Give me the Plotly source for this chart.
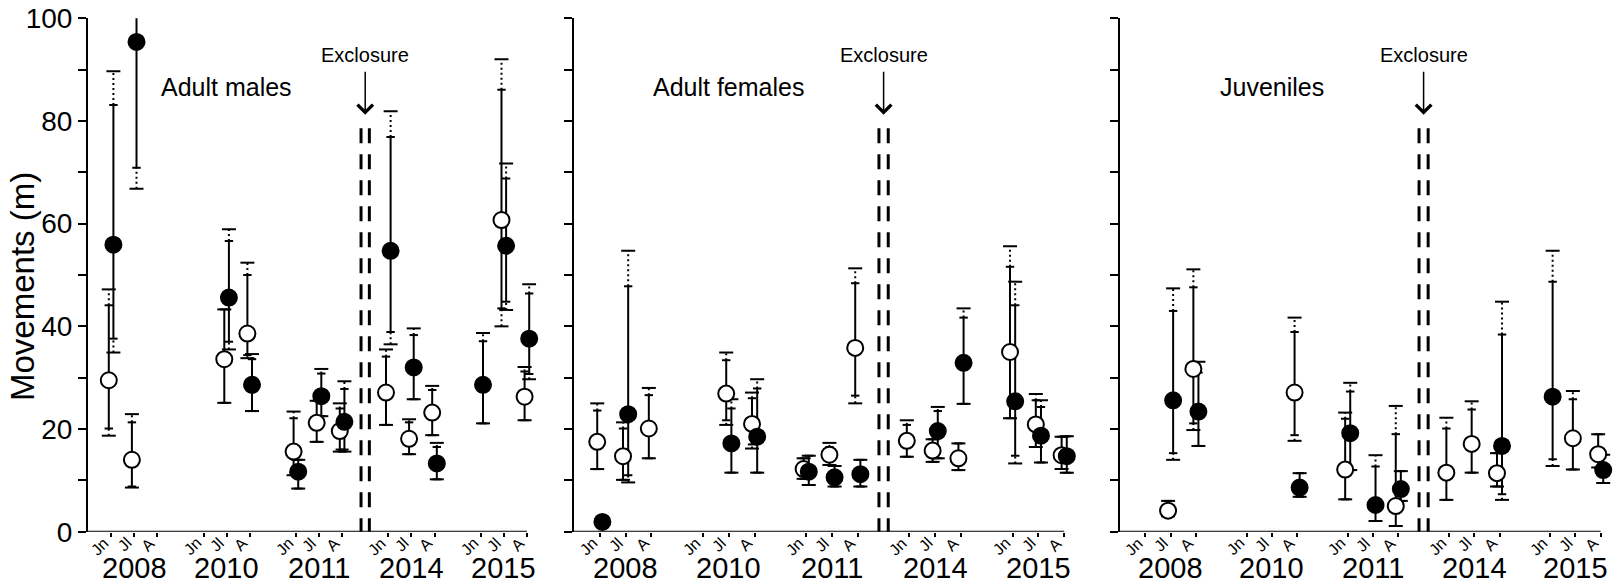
import plotly.graph_objects as go

# ---------------- categories ----------------
x_pos = [0, 1, 2, 4, 5, 6, 8, 9, 10, 12, 13, 14, 16, 17, 18]
month_labels = ["Jn", "Jl", "A"] * 5
year_labels = ["2008", "2010", "2011", "2014", "2015"]
year_pos = [1, 5, 9, 13, 17]
panel_titles = ["Adult males", "Adult females", "Juveniles"]
exclosure_x = 11
exclosure_top = 78.6
y_ticks = list(range(0, 101, 10))

N = None
# ---------------- Adult males ----------------
males_open_mean   = [29.5, 14.0, N, N, 33.6, 38.6, 15.6, 21.2, 19.6, 27.1, 18.1, 23.2, N, 60.7, 26.3]
males_open_lo     = [20.1, 8.8, N, N, 25.1, 34.4, 11.5, 17.5, 16.0, 20.8, 15.1, 18.8, N, 43.5, 21.7]
males_open_hi     = [44.1, 21.3, N, N, 43.3, 50.0, 22.1, 25.5, 24.0, 34.1, 21.3, 27.6, N, 86.1, 31.2]
males_open_lo_ext = [18.7, 8.6, N, N, 25.1, 33.8, 11.0, 17.5, 15.6, 20.8, 15.1, 18.8, N, 40.0, 21.7]
males_open_hi_ext = [47.2, 22.9, N, N, 43.3, 52.4, 23.4, 25.5, 25.0, 35.5, 21.9, 28.4, N, 92.0, 32.1]

males_fill_mean   = [55.9, 95.4, N, N, 45.6, 28.6, 11.7, 26.4, 21.4, 54.7, 32.0, 13.3, 28.6, 55.7, 37.6]
males_fill_lo     = [37.6, 70.9, N, N, 37.0, 23.5, 8.4, 22.5, 16.0, 38.9, 25.8, 10.2, 21.1, 44.8, 30.7]
males_fill_hi     = [83.1, 105.0, N, N, 56.6, 33.6, 14.0, 30.8, 27.8, 76.9, 38.3, 16.5, 37.1, 68.8, 46.4]
males_fill_lo_ext = [34.9, 66.8, N, N, 35.5, 23.5, 8.4, 22.5, 15.6, 36.5, 25.8, 10.2, 21.1, 43.2, 29.7]
males_fill_hi_ext = [89.7, 110.0, N, N, 58.9, 34.6, 14.0, 31.7, 29.3, 81.9, 39.6, 17.3, 38.7, 71.7, 48.2]

# ---------------- Adult females ----------------
females_open_mean   = [17.5, 14.7, 20.1, N, 26.9, 21.0, 12.2, 15.0, 35.8, 17.7, 15.8, 14.3, 35.0, 20.9, 14.9]
females_open_lo     = [12.2, 10.1, 14.3, N, 21.7, 17.0, 10.3, 13.0, 26.5, 14.6, 13.6, 12.0, 22.1, 16.5, 12.2]
females_open_hi     = [23.6, 20.1, 26.6, N, 33.4, 26.0, 14.3, 16.5, 48.4, 20.8, 18.0, 17.2, 51.6, 25.6, 18.5]
females_open_lo_ext = [12.2, 10.1, 14.3, N, 20.8, 16.2, 10.3, 13.0, 25.0, 14.6, 13.6, 12.0, 22.1, 16.5, 12.2]
females_open_hi_ext = [25.0, 21.3, 28.0, N, 34.9, 27.1, 14.3, 17.3, 51.3, 21.7, 18.0, 17.2, 55.6, 26.8, 18.5]

females_fill_mean   = [1.9, 22.9, N, N, 17.2, 18.5, 11.7, 10.6, 11.2, N, 19.6, 32.9, 25.4, 18.7, 14.7]
females_fill_lo     = [N, 11.0, N, N, 11.5, 11.5, 9.1, 8.8, 8.8, N, 14.3, 24.9, 14.8, 13.5, 11.5]
females_fill_hi     = [N, 47.8, N, N, 24.0, 27.9, 14.8, 12.8, 14.0, N, 23.5, 41.7, 44.1, 24.3, 18.6]
females_fill_lo_ext = [N, 9.6, N, N, 11.5, 11.5, 9.1, 8.8, 8.8, N, 14.3, 24.9, 13.3, 13.5, 11.5]
females_fill_hi_ext = [N, 54.7, N, N, 25.8, 29.7, 14.8, 12.8, 14.0, N, 24.3, 43.5, 48.7, 25.6, 18.6]

# ---------------- Juveniles ----------------
juv_open_mean   = [N, 4.1, 31.7, N, N, 27.1, 12.1, N, 5.0, 11.5, 17.1, 11.4, N, 18.2, 15.1]
juv_open_lo     = [N, 3.0, 21.1, N, N, 18.8, 6.3, N, 1.1, 6.2, 11.5, 8.8, N, 12.1, 12.5]
juv_open_hi     = [N, 6.0, 47.6, N, N, 38.9, 22.0, N, 19.0, 20.1, 23.8, 15.3, N, 25.8, 19.0]
juv_open_lo_ext = [N, 3.0, 19.8, N, N, 17.7, 6.3, N, 1.1, 6.2, 11.5, 8.8, N, 12.1, 12.5]
juv_open_hi_ext = [N, 6.0, 51.1, N, N, 41.7, 23.2, N, 24.5, 22.2, 25.4, 15.3, N, 27.4, 19.0]

juv_fill_mean   = [N, 25.6, 23.4, N, N, 8.6, 19.2, 5.2, 8.3, N, N, 16.7, 26.3, N, 12.0]
juv_fill_lo     = [N, 15.3, 16.7, N, N, 6.8, 12.0, 2.1, 6.0, N, N, 7.3, 14.1, N, 9.5]
juv_fill_hi     = [N, 43.0, 31.0, N, N, 11.4, 27.3, 12.7, 11.8, N, N, 38.4, 48.7, N, 15.0]
juv_fill_lo_ext = [N, 14.0, 16.7, N, N, 6.8, 12.0, 2.1, 6.0, N, N, 6.2, 12.8, N, 9.5]
juv_fill_hi_ext = [N, 47.4, 33.1, N, N, 11.4, 29.0, 14.9, 11.8, N, N, 44.8, 54.7, N, 15.0]

panels = [
    ((males_open_mean, males_open_lo, males_open_hi, males_open_lo_ext, males_open_hi_ext),
     (males_fill_mean, males_fill_lo, males_fill_hi, males_fill_lo_ext, males_fill_hi_ext)),
    ((females_open_mean, females_open_lo, females_open_hi, females_open_lo_ext, females_open_hi_ext),
     (females_fill_mean, females_fill_lo, females_fill_hi, females_fill_lo_ext, females_fill_hi_ext)),
    ((juv_open_mean, juv_open_lo, juv_open_hi, juv_open_lo_ext, juv_open_hi_ext),
     (juv_fill_mean, juv_fill_lo, juv_fill_hi, juv_fill_lo_ext, juv_fill_hi_ext)),
]

W, H = 1617, 586
X_MIN, X_AXIS_END, X_MAX = -1, 18, 18.4
panel_left_px = [88, 574, 1120]
panel_unit_px = [23.1, 25.8, 25.3]
Y_BOTTOM_PX, Y_TOP_PX = 531.7, 18.3
y_dom = [1 - Y_BOTTOM_PX / H, 1 - Y_TOP_PX / H]
FONT = "Liberation Sans, Arial, sans-serif"
OPEN_OFF, FILL_OFF = -0.1, 0.1

fig = go.Figure()


def errorbar_traces(series, off, xa, ya):
    mean, lo, hi, lo_e, hi_e = series
    sx, sy, dx, dy = [], [], [], []
    icx, icy, ocx, ocy = [], [], [], []
    for xp, m, l, h, le, he in zip(x_pos, mean, lo, hi, lo_e, hi_e):
        if m is None or l is None:
            continue
        x = xp + off
        sx += [x, x, None]
        sy += [l, h, None]
        if he > h:
            dx += [x, x, None]
            dy += [h, he, None]
        if le < l:
            dx += [x, x, None]
            dy += [le, l, None]
        icx += [x, x]
        icy += [l, h]
        ocx += [x, x]
        ocy += [le, he]
    common = dict(xaxis=xa, yaxis=ya, showlegend=False, hoverinfo="skip")
    fig.add_trace(go.Scatter(x=sx, y=sy, mode="lines", line=dict(color="black", width=2), **common))
    fig.add_trace(go.Scatter(x=dx, y=dy, mode="lines",
                             line=dict(color="black", width=2, dash="2px,3px"), **common))
    fig.add_trace(go.Scatter(x=icx, y=icy, mode="markers",
                             marker=dict(symbol="line-ew", size=6, line=dict(color="black", width=2)),
                             **common))
    fig.add_trace(go.Scatter(x=ocx, y=ocy, mode="markers",
                             marker=dict(symbol="line-ew", size=10, line=dict(color="black", width=2)),
                             **common))


def point_trace(series, off, filled, xa, ya):
    mean = series[0]
    xs = [xp + off for xp, m in zip(x_pos, mean) if m is not None]
    ys = [m for m in mean if m is not None]
    fig.add_trace(go.Scatter(
        x=xs, y=ys, mode="markers", xaxis=xa, yaxis=ya, showlegend=False, hoverinfo="skip",
        cliponaxis=False,
        marker=dict(symbol="circle", size=16, color="black" if filled else "white",
                    line=dict(color="black", width=2))))


layout = dict(
    width=W, height=H, margin=dict(l=0, r=0, t=0, b=0, autoexpand=False),
    paper_bgcolor="white", plot_bgcolor="white",
    font=dict(family=FONT, color="black"),
)
annotations = []
shapes = []

for i, (open_s, fill_s) in enumerate(panels):
    k = "" if i == 0 else str(i + 1)
    xa, ya = "x" + k, "y" + k
    left = panel_left_px[i]
    right = left + (X_MAX - X_MIN) * panel_unit_px[i]
    layout["xaxis" + k] = dict(
        domain=[left / W, right / W], anchor=ya, range=[X_MIN, X_MAX], automargin=False,
        showline=False, showgrid=False, zeroline=False,
        ticks="outside", ticklen=4, tickwidth=2, tickcolor="black",
        tickvals=x_pos, showticklabels=False, fixedrange=True,
    )
    layout["yaxis" + k] = dict(
        domain=y_dom, anchor=xa, range=[0, 100], automargin=False,
        showline=True, linewidth=2, linecolor="black", showgrid=False, zeroline=False,
        ticks="outside", ticklen=8, tickwidth=2, tickcolor="black",
        tickvals=y_ticks, ticktext=[str(v) if v % 20 == 0 else "" for v in y_ticks],
        showticklabels=(i == 0), tickfont=dict(size=28, family=FONT), fixedrange=True,
    )
    # x axis line only up to the last category
    shapes.append(dict(type="line", xref=xa, yref=ya, x0=X_MIN, x1=X_AXIS_END, y0=0, y1=0,
                       line=dict(color="black", width=2)))

    errorbar_traces(open_s, OPEN_OFF, xa, ya)
    errorbar_traces(fill_s, FILL_OFF, xa, ya)
    point_trace(open_s, OPEN_OFF, False, xa, ya)
    point_trace(fill_s, FILL_OFF, True, xa, ya)

    # rotated month labels under each tick
    for xp, lab in zip(x_pos, month_labels):
        annotations.append(dict(x=xp, y=1 - (Y_BOTTOM_PX + 1) / H, xref=xa, yref="paper",
                                text=lab, textangle=-45, showarrow=False,
                                font=dict(size=16, family=FONT), borderpad=0,
                                xanchor="right", yanchor="top", xshift=2, yshift=0))
    # year labels
    for yl, yp in zip(year_labels, year_pos):
        annotations.append(dict(x=yp, y=1 - 568 / H, xref=xa, yref="paper", text=yl,
                                showarrow=False, font=dict(size=29, family=FONT),
                                xanchor="center", yanchor="middle"))
    # panel title
    annotations.append(dict(x=5, y=86.6, xref=xa, yref=ya, text=panel_titles[i],
                            showarrow=False, font=dict(size=25, family=FONT),
                            xanchor="center", yanchor="middle"))
    # exclosure label + arrow
    annotations.append(dict(x=exclosure_x, y=92.9, xref=xa, yref=ya, text="Exclosure",
                            showarrow=False, font=dict(size=20, family=FONT),
                            xanchor="center", yanchor="middle"))
    annotations.append(dict(x=exclosure_x, y=81.2, xref=xa, yref=ya, ax=exclosure_x, ay=89.9,
                            axref=xa, ayref=ya, text="", showarrow=True, arrowhead=4,
                            arrowsize=2, arrowwidth=1.5, arrowcolor="black"))
    # double dashed line
    for dxo in (-0.18, 0.18):
        shapes.append(dict(type="line", xref=xa, yref=ya,
                           x0=exclosure_x + dxo, x1=exclosure_x + dxo, y0=exclosure_top, y1=0,
                           line=dict(color="black", width=3, dash="15px,11px")))

annotations.append(dict(x=22 / W, y=1 - 287 / H, xref="paper", yref="paper",
                        text="Movements (m)", textangle=-90, showarrow=False,
                        font=dict(size=33, family=FONT), xanchor="center", yanchor="middle"))

layout["annotations"] = annotations
layout["shapes"] = shapes
fig.update_layout(**layout)

fig.write_html("out.html", post_script="document.body.style.margin='0px';",
               config={"displayModeBar": False})
